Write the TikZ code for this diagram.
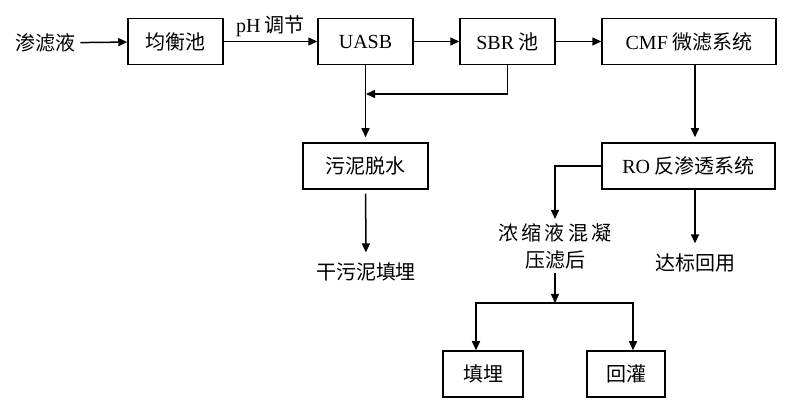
\documentclass[tikz,border=0pt]{standalone}
\usepackage{fontspec}
\setmainfont{Noto Sans CJK SC}
\newfontfamily\lat{Liberation Serif}
\usetikzlibrary{arrows.meta, positioning, calc}

\begin{document}
\begin{tikzpicture}[
  x=0.5pt, y=-0.5pt,
  font=\fontsize{10pt}{13.5pt}\selectfont,
  box/.style={draw, line width=0.75pt, minimum height=23pt, inner sep=0pt},
  txt/.style={inner sep=2pt, align=center},
  flow/.style={-{Triangle[length=4.5pt, width=4pt]}, line width=0.75pt}
]
  \useasboundingbox (0,0) rectangle (800,406);

  % main treatment line
  \node[txt] (feed) at (46,43) {渗滤液};
  \node[box, minimum width=47.5pt] (eq) at (175.5,41.5) {均衡池};
  \node[box, minimum width=47.5pt] (uasb) at (365.5,41.5) {\lat UASB};
  \node[box, minimum width=47.5pt] (sbr) at (507.5,41.5) {{\lat SBR} 池};
  \node[box, minimum width=87pt] (cmf) at (689,41.5) {{\lat CMF} 微滤系统};

  % sludge branch
  \node[box, minimum width=62.5pt] (sludge) at (365.5,166) {污泥脱水};
  \node[txt] (dry) at (366,272) {干污泥填埋};

  % membrane branch
  \node[box, minimum width=86.5pt] (ro) at (688.5,166) {{\lat RO} 反渗透系统};
  \node[txt] (reuse) at (695,263) {达标回用};
  \node[txt, anchor=north] (conc) at (555,219) {浓\,缩\,液\,混\,凝\\压滤后};

  % concentrate disposal
  \node[box, minimum width=40pt] (fill) at (483,374) {填埋};
  \node[box, minimum width=39pt] (reinj) at (626,374) {回灌};

  \coordinate (ret) at (366,94);
  \coordinate (split) at (555,303);
  \coordinate (lbr) at (476,303);
  \coordinate (rbr) at (633,303);

  \draw[flow] (feed) -- (eq);
  \draw[flow] (eq) -- node[above=1pt, inner sep=1pt] {{\lat pH} 调节} (uasb);
  \draw[flow] (uasb) -- (sbr);
  \draw[flow] (sbr) -- (cmf);
  \draw[flow] (sbr.south) |- (ret);
  \draw[flow, shorten >=2.5pt] (uasb) -- (sludge);
  \draw[flow, shorten <=2pt, shorten >=3pt] (sludge) -- (dry);

  \draw[flow, shorten >=2.5pt] (cmf.south -| reuse) -- (ro.north -| reuse);
  \draw[flow, shorten >=3pt] (ro.south -| reuse) -- (reuse);
  \draw[flow] (ro.west) -| (conc.north);

  \draw[flow] (conc) -- (split);
  \draw[flow] (split) -| (lbr |- fill.north);
  \draw[flow] (split) -| (rbr |- reinj.north);
\end{tikzpicture}
\end{document}
